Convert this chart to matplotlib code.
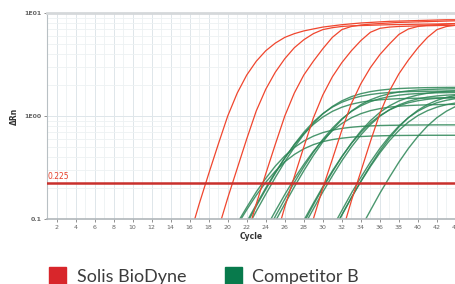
import matplotlib
matplotlib.use("Agg")
import matplotlib.pyplot as plt
from matplotlib.patches import Rectangle
from matplotlib.ticker import FixedLocator, LogLocator, NullFormatter
import numpy as np

# amplification curves: first cycle + delta Rn per cycle
solis_start = [16, 19, 22, 25, 28, 32]
solis_curves = [
    [0.068, 0.14, 0.275, 0.53, 1.0, 1.67, 2.5, 3.4, 4.3, 5.1, 5.8, 6.3, 6.7, 7.0, 7.3,
     7.5, 7.7, 7.85, 8.0, 8.1, 8.2, 8.3, 8.35, 8.4, 8.45, 8.5, 8.55, 8.6, 8.6],
    [0.079, 0.16, 0.31, 0.60, 1.12, 1.82, 2.66, 3.6, 4.6, 5.5, 6.3, 6.9, 7.2, 7.4, 7.5,
     7.55, 7.6, 7.65, 7.7, 7.72, 7.75, 7.78, 7.8, 7.82, 7.85, 7.9],
    [0.068, 0.14, 0.275, 0.53, 1.0, 1.67, 2.5, 3.4, 4.5, 5.8, 6.9, 7.4, 7.65, 7.8, 7.9,
     8.0, 8.1, 8.15, 8.2, 8.25, 8.3, 8.35, 8.4],
    [0.0625, 0.131, 0.257, 0.50, 0.955, 1.6, 2.4, 3.3, 4.3, 5.4, 6.5, 7.1, 7.3, 7.4,
     7.45, 7.5, 7.52, 7.55, 7.58, 7.6],
    [0.05, 0.1, 0.2, 0.38, 0.73, 1.32, 2.06, 2.95, 3.95, 5.0, 6.2, 7.0, 7.4, 7.6, 7.7,
     7.8, 7.9],
    [0.073, 0.15, 0.29, 0.565, 1.06, 1.75, 2.57, 3.5, 4.6, 5.8, 6.9, 7.4, 7.6],
]

comp_start = [20, 20, 22, 21, 21, 24, 24, 24, 27, 27, 27, 31, 31, 31, 34]
comp_curves = [
    [0.060, 0.087, 0.123, 0.170, 0.227, 0.291, 0.359, 0.423, 0.480, 0.527, 0.564, 0.590,
     0.609, 0.623, 0.632, 0.638, 0.642, 0.645, 0.647, 0.648, 0.649, 0.65, 0.65, 0.65, 0.65],
    [0.062, 0.091, 0.130, 0.183, 0.248, 0.326, 0.41, 0.494, 0.572, 0.637, 0.690, 0.729,
     0.758, 0.778, 0.792, 0.801, 0.808, 0.812, 0.814, 0.817, 0.818, 0.819, 0.82, 0.82, 0.82],
    [0.080, 0.119, 0.174, 0.253, 0.359, 0.496, 0.663, 0.851, 1.049, 1.237, 1.404, 1.541,
     1.647, 1.725, 1.781, 1.820, 1.847, 1.864, 1.877, 1.885, 1.89, 1.894, 1.896],
    [0.060, 0.090, 0.133, 0.194, 0.278, 0.390, 0.530, 0.695, 0.875, 1.055, 1.220, 1.360,
     1.472, 1.556, 1.617, 1.661, 1.691, 1.710, 1.724, 1.733, 1.738, 1.743, 1.745, 1.747],
    [0.063, 0.094, 0.138, 0.200, 0.284, 0.392, 0.524, 0.672, 0.828, 0.977, 1.109, 1.217,
     1.301, 1.362, 1.406, 1.437, 1.458, 1.472, 1.482, 1.488, 1.493, 1.496, 1.497, 1.498],
    [0.064, 0.095, 0.140, 0.205, 0.294, 0.413, 0.561, 0.734, 0.925, 1.116, 1.289, 1.437,
     1.556, 1.645, 1.709, 1.756, 1.787, 1.807, 1.822, 1.832, 1.837],
    [0.072, 0.106, 0.156, 0.226, 0.321, 0.444, 0.593, 0.762, 0.938, 1.107, 1.256, 1.379,
     1.474, 1.544, 1.594, 1.629, 1.652, 1.668, 1.680, 1.686, 1.692],
    [0.081, 0.119, 0.173, 0.246, 0.339, 0.454, 0.582, 0.718, 0.846, 0.961, 1.054, 1.127,
     1.180, 1.219, 1.245, 1.264, 1.275, 1.284, 1.290, 1.294, 1.296],
    [0.062, 0.092, 0.137, 0.200, 0.286, 0.401, 0.545, 0.715, 0.90, 1.085, 1.255, 1.399,
     1.514, 1.600, 1.663, 1.708, 1.739, 1.759],
    [0.057, 0.085, 0.125, 0.183, 0.262, 0.368, 0.500, 0.655, 0.825, 0.995, 1.150, 1.282,
     1.388, 1.467, 1.525, 1.566, 1.594, 1.612],
    [0.065, 0.097, 0.142, 0.206, 0.293, 0.405, 0.541, 0.694, 0.856, 1.009, 1.145, 1.257,
     1.344, 1.407, 1.453, 1.485, 1.507, 1.521],
    [0.074, 0.109, 0.161, 0.233, 0.331, 0.457, 0.611, 0.784, 0.966, 1.139, 1.293, 1.419,
     1.517, 1.589],
    [0.082, 0.121, 0.178, 0.254, 0.357, 0.485, 0.635, 0.80, 0.965, 1.115, 1.243, 1.346,
     1.422, 1.478],
    [0.074, 0.110, 0.161, 0.231, 0.323, 0.439, 0.576, 0.725, 0.874, 1.011, 1.127, 1.219,
     1.289, 1.340],
    [0.082, 0.121, 0.178, 0.254, 0.357, 0.485, 0.635, 0.80, 0.965, 1.115, 1.243],
]

threshold = 0.225
x_ticks = list(range(2, 45, 2))
y_ticks = [0.1, 1, 10]
y_ticklabels = ["0.1", "1E00", "1E01"]
legend_names = ["Solis BioDyne", "Competitor B"]

red = "#f0462e"
green = "#2b8555"

fig = plt.figure(figsize=(4.55, 2.84), dpi=100)
ax = fig.add_axes([47 / 455, 65 / 284, 409 / 455, 206 / 284])

for s, vals in zip(comp_start, comp_curves):
    ax.plot(np.arange(s, s + len(vals)), vals, color=green, lw=1.0, alpha=0.85)
for s, vals in zip(solis_start, solis_curves):
    ax.plot(np.arange(s, s + len(vals)), vals, color=red, lw=0.9)

ax.axhline(threshold, color="#c9302c", lw=1.8, zorder=5)
ax.text(1.1, threshold * 1.04, "0.225", color="#e8402a", fontsize=5.5,
        va="bottom", ha="left")

ax.set_yscale("log")
ax.set_xlim(1, 44)
ax.set_ylim(0.1, 10)
ax.xaxis.set_major_locator(FixedLocator(x_ticks))
ax.xaxis.set_minor_locator(FixedLocator(range(1, 45)))
ax.set_yticks(y_ticks)
ax.set_yticklabels(y_ticklabels)
ax.yaxis.set_minor_locator(LogLocator(base=10, subs=np.arange(2, 10)))
ax.yaxis.set_minor_formatter(NullFormatter())
ax.grid(True, which="major", color="#dfe6ea", lw=0.7)
ax.grid(True, which="minor", color="#edf1f3", lw=0.6)
ax.set_axisbelow(True)

ax.tick_params(axis="both", which="major", labelsize=4.5, colors="#666666",
               length=2, width=0.5, pad=2)
ax.tick_params(axis="both", which="minor", length=0)
for lab in ax.get_yticklabels():
    lab.set_fontweight("bold")
ax.spines["top"].set_color("#d5d8da")
ax.spines["top"].set_linewidth(2)
ax.spines["right"].set_visible(False)
ax.spines["left"].set_color("#b8c0c4")
ax.spines["bottom"].set_color("#b0b6ba")
ax.spines["bottom"].set_linewidth(1.2)

ax.set_xlabel("Cycle", fontsize=5.5, color="#333333", labelpad=2, fontweight="bold")
ax.set_ylabel("\u0394Rn", fontsize=5.5, color="#333333", labelpad=4, fontweight="bold")

# legend drawn by hand below the chart
fig.patches.append(Rectangle((49 / 455, -2 / 284), 17 / 455, 19 / 284,
                             transform=fig.transFigure, color="#d8262b"))
fig.patches.append(Rectangle((225 / 455, -2 / 284), 17 / 455, 19 / 284,
                             transform=fig.transFigure, color="#087a4c"))
fig.text(77 / 455, 2 / 284, legend_names[0], fontsize=13, family="Lato",
         color="#3c3c3c", va="baseline")
fig.text(252 / 455, 2 / 284, legend_names[1], fontsize=13, family="Lato",
         color="#3c3c3c", va="baseline")

fig.savefig("out.png", dpi=100)
